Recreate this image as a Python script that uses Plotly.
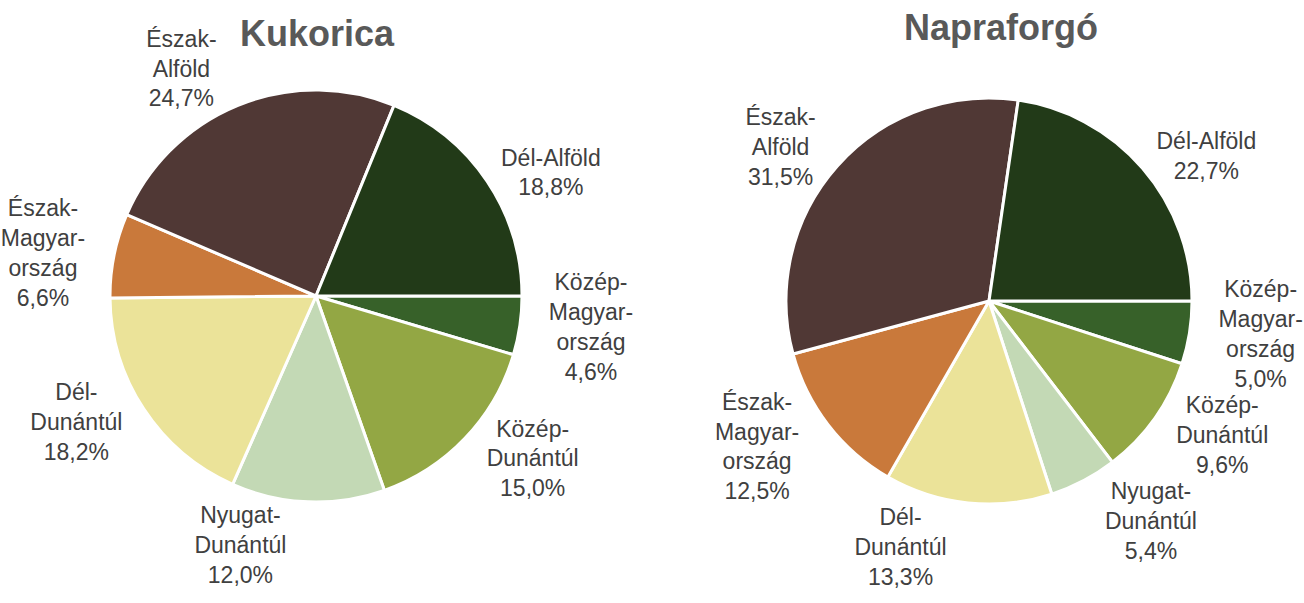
import plotly.graph_objects as go

regions = ["Közép-<br>Magyar-<br>ország", "Közép-<br>Dunántúl", "Nyugat-<br>Dunántúl",
           "Dél-<br>Dunántúl", "Észak-<br>Magyar-<br>ország", "Észak-<br>Alföld", "Dél-Alföld"]
kukorica = [4.6, 15.0, 12.0, 18.2, 6.6, 24.7, 18.8]
napraforgo = [5.0, 9.6, 5.4, 13.3, 12.5, 31.5, 22.7]
colors = ["#376129", "#93A744", "#C3D9B5", "#EBE399", "#C9793B", "#503835", "#223A18"]
titles = ["Kukorica", "Napraforgó"]

W, H = 1304, 603

def fmt(v):
    return f"{v:.1f}".replace(".", ",") + "%"

def dom(cx, cy, r):
    return dict(x=[(cx - r) / W, (cx + r) / W], y=[1 - (cy + r) / H, 1 - (cy - r) / H])

fig = go.Figure()
for vals, d in [(kukorica, dom(316, 296, 206)), (napraforgo, dom(989, 301, 203))]:
    fig.add_trace(go.Pie(
        labels=regions, values=vals, sort=False, direction="clockwise", rotation=90,
        marker=dict(colors=colors, line=dict(color="white", width=3)),
        text=[fmt(v) for v in vals], textinfo="label+text", textposition="outside",
        outsidetextfont=dict(family="Liberation Sans, Arial, sans-serif", size=23, color="#404040"),
        hoverinfo="skip", domain=d, automargin=False, showlegend=False,
    ))

for t, (x, y) in zip(titles, [(317, 34), (1001, 27)]):
    fig.add_annotation(text=f"<b>{t}</b>", x=x / W, y=1 - y / H, xref="paper", yref="paper",
                       xanchor="center", yanchor="middle", showarrow=False,
                       font=dict(family="Liberation Sans, Arial", size=36, color="#595959"))

fig.update_layout(width=W, height=H, margin=dict(l=0, r=0, t=0, b=0),
                  paper_bgcolor="white", plot_bgcolor="white")
fig.write_html(
    "out.html",
    config={"displayModeBar": False, "staticPlot": True},
    post_script=("document.body.style.margin='0';document.body.style.overflow='hidden';"
                 "document.querySelectorAll('.textline').forEach(function(e){e.style.display='none';});"),
)
